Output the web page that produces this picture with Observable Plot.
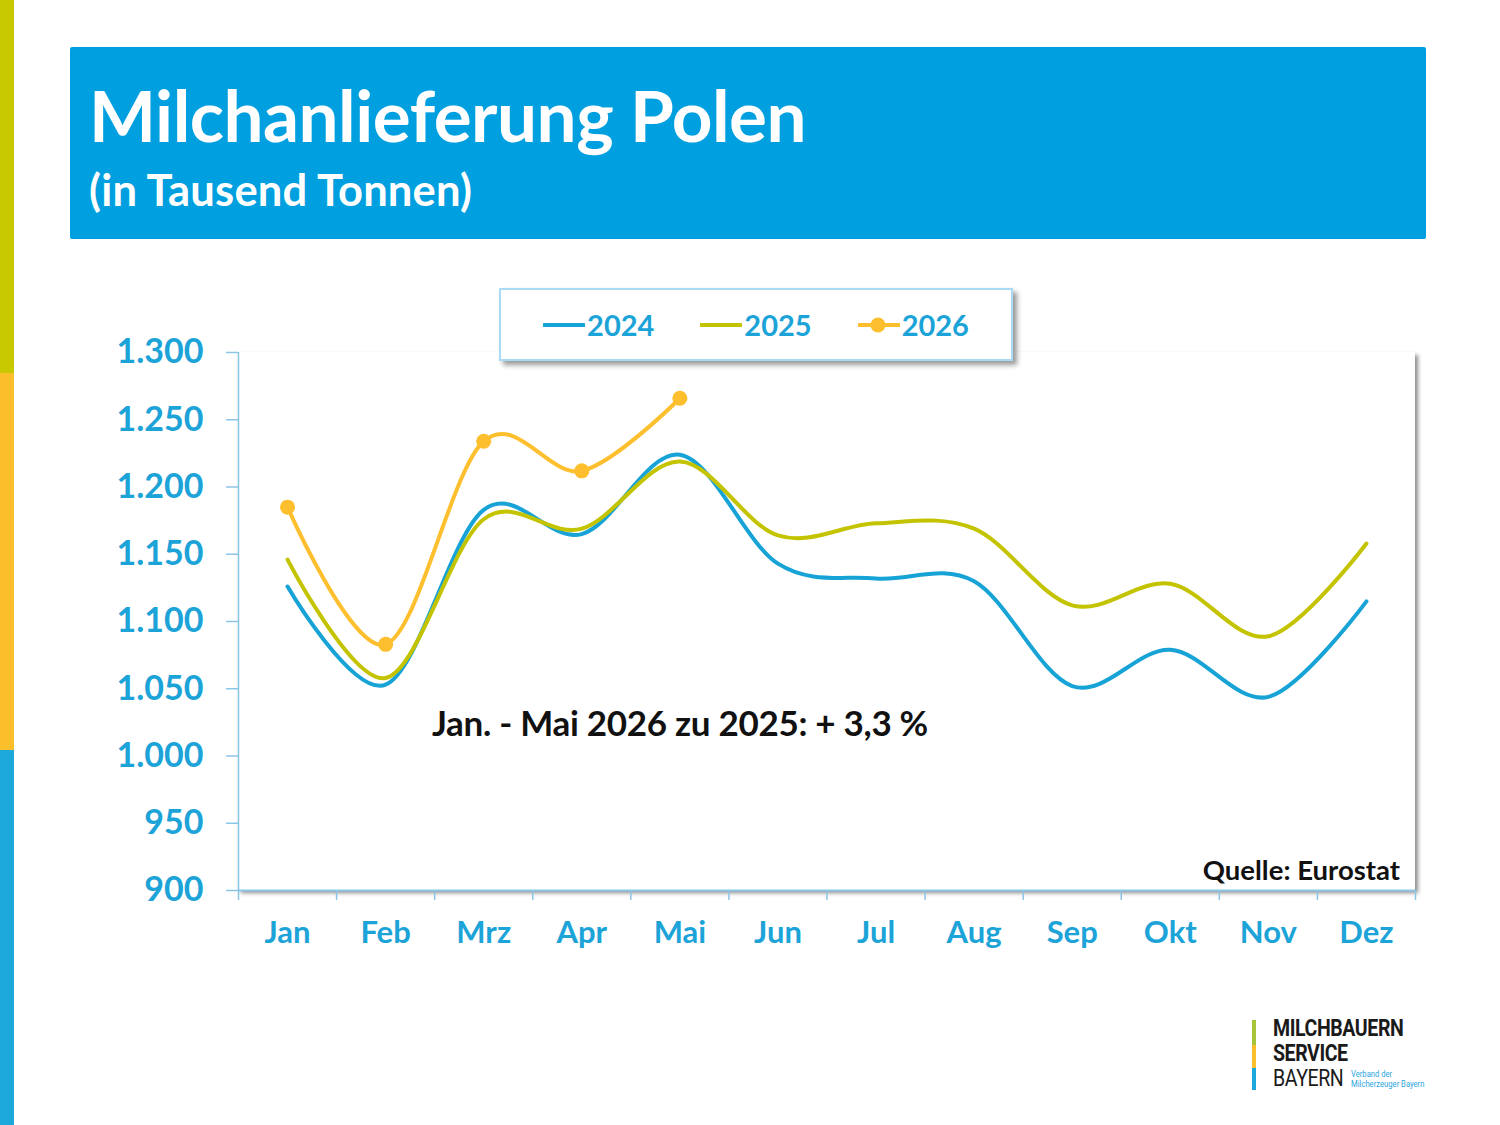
<!DOCTYPE html>
<html>
<head>
<meta charset="utf-8">
<script src="https://cdn.jsdelivr.net/npm/d3@7"></script>
<script src="https://cdn.jsdelivr.net/npm/@observablehq/plot@0.6"></script>
<style>
  html, body { margin: 0; padding: 0; background: #fff; }
  #page { position: relative; width: 1500px; height: 1125px; overflow: hidden; font-family: Lato, "Open Sans", sans-serif; }
  .stripe { position: absolute; left: 0; width: 14px; }
  #header { position: absolute; left: 70px; top: 47px; width: 1356px; height: 192px; background: #009fe0; border-radius: 2px; color: #fff; }
  #title { position: absolute; left: 19px; top: 25px; font-size: 71px; font-weight: 700; letter-spacing: -0.5px; white-space: nowrap; }
  #subtitle { position: absolute; left: 19px; top: 116px; font-size: 43.5px; font-weight: 700; white-space: nowrap; letter-spacing: 0.2px; }
  #plotbg { position: absolute; left: 238px; top: 352px; width: 1177px; height: 538px; background: #fff; box-shadow: 3px 3px 4px rgba(0,0,0,0.45); }
  #chart { position: absolute; left: 0; top: 280px; }
  #legend { position: absolute; left: 499px; top: 288px; width: 510px; height: 69px; border: 2px solid #a9dcf2; background: #fff; box-shadow: 4px 4px 5px rgba(0,0,0,0.4); display: flex; align-items: center; justify-content: center; gap: 46px; }
  .item { display: flex; align-items: center; font-size: 29px; font-weight: 700; color: #1ca3d8; }
  .item svg { margin-right: 2px; }
  #note { position: absolute; left: 432px; top: 701px; font-size: 35px; font-weight: 700; color: #111; white-space: nowrap; letter-spacing: -0.3px; }
  #source { position: absolute; right: 100px; top: 853px; font-size: 27.5px; font-weight: 700; color: #111; white-space: nowrap; }
  #logo { position: absolute; left: 1252px; top: 1018px; width: 200px; height: 80px; }
  .lbar { position: absolute; left: 0; width: 4px; }
  .ltxt { position: absolute; left: 21px; font-family: Roboto, sans-serif; font-size: 23px; color: #1a1a1a; white-space: nowrap; letter-spacing: -0.5px; transform: scaleX(0.85); transform-origin: left; }
  .lsmall { position: absolute; left: 99px; font-family: Roboto, sans-serif; font-size: 9px; color: #2aa6de; white-space: nowrap; transform: scaleX(0.85); transform-origin: left; }
</style>
</head>
<body>
<div id="page">
  <div class="stripe" style="top:0;height:373px;background:#c8c800"></div>
  <div class="stripe" style="top:373px;height:377px;background:#fbbf2c"></div>
  <div class="stripe" style="top:750px;height:375px;background:#1da8dc"></div>
  <div id="header">
    <div id="title">Milchanlieferung Polen</div>
    <div id="subtitle">(in Tausend Tonnen)</div>
  </div>
  <div id="plotbg"></div>
  <div id="chart"></div>
  <div id="legend"></div>
  <div id="note">Jan. - Mai 2026 zu 2025: + 3,3 %</div>
  <div id="source">Quelle: Eurostat</div>
  <div id="logo">
    <div class="lbar" style="top:2px;height:25px;background:#a8c43a"></div>
    <div class="lbar" style="top:27px;height:23px;background:#fbbf2c"></div>
    <div class="lbar" style="top:50px;height:22px;background:#1da8dc"></div>
    <div class="ltxt" style="top:-3px;font-weight:700">MILCHBAUERN</div>
    <div class="ltxt" style="top:22px;font-weight:700">SERVICE</div>
    <div class="ltxt" style="top:47px;font-weight:400">BAYERN</div>
    <div class="lsmall" style="top:51px">Verband der</div>
    <div class="lsmall" style="top:61px">Milcherzeuger Bayern</div>
  </div>
</div>
<script>
const months = ["Jan","Feb","Mrz","Apr","Mai","Jun","Jul","Aug","Sep","Okt","Nov","Dez"];
const v2024 = [1126,1053,1183,1165,1224,1143,1132,1130,1052,1079,1044,1115];
const v2025 = [1146,1058,1176,1169,1219,1164,1173,1169,1112,1128,1089,1158];
const v2026 = [1185,1083,1234,1212,1266];
const seriesNames = ["2024","2025","2026"];
const seriesColors = ["#17a3d6","#c4c300","#fdbf2d"];
const yTicks = [900,950,1000,1050,1100,1150,1200,1250,1300];

const de = d3.formatLocale({decimal: ",", thousands: ".", grouping: [3], currency: ["", " €"]});
const fmt = de.format(",");

const toRows = (vals, name) => vals.map((v, i) => ({x: i + 0.5, y: v, s: name}));
const r2024 = toRows(v2024, "2024");
const r2025 = toRows(v2025, "2025");
const r2026 = toRows(v2026, "2026");

const axisBlue = "#8cc6e6";
const labelBlue = "#1ca3d8";

const chart = Plot.plot({
  width: 1500,
  height: 700,
  marginLeft: 238,
  marginRight: 85,
  marginTop: 72,
  marginBottom: 90,
  style: {fontFamily: "Lato, 'Open Sans', sans-serif", fontWeight: "700", background: "transparent", overflow: "visible"},
  x: {type: "linear", domain: [0, months.length], label: null},
  y: {domain: [900, 1300], label: null},
  marks: [
    Plot.ruleX([0], {y1: 900, y2: 1300, stroke: axisBlue, strokeWidth: 1.5}),
    Plot.ruleY([900], {stroke: axisBlue, strokeWidth: 2}),
    Plot.axisY({ticks: yTicks, label: null, tickSize: 12, tickPadding: 23, tickFormat: fmt, stroke: axisBlue, strokeWidth: 1.5, fill: labelBlue, fontSize: 34, fontWeight: 700}),
    Plot.axisX({ticks: d3.range(0, months.length + 1), label: null, tickSize: 10, tickFormat: () => "", stroke: axisBlue, strokeWidth: 1.5}),
    Plot.axisX({ticks: months.map((m, i) => i + 0.5), label: null, tickSize: 0, tickPadding: 30, tickFormat: d => months[Math.floor(d)], fill: labelBlue, fontSize: 31, fontWeight: 700}),
    Plot.line(r2024, {x: "x", y: "y", stroke: seriesColors[0], strokeWidth: 4, curve: "cardinal", tension: 0}),
    Plot.line(r2025, {x: "x", y: "y", stroke: seriesColors[1], strokeWidth: 4, curve: "cardinal", tension: 0}),
    Plot.line(r2026, {x: "x", y: "y", stroke: seriesColors[2], strokeWidth: 4, curve: "cardinal", tension: 0}),
    Plot.dot(r2026, {x: "x", y: "y", fill: seriesColors[2], r: 7.5})
  ]
});
document.getElementById("chart").appendChild(chart);

const legend = document.getElementById("legend");
seriesNames.forEach((name, i) => {
  const item = document.createElement("div");
  item.className = "item";
  const dot = name === "2026" ? `<circle cx="20" cy="10" r="7.5" fill="${seriesColors[i]}"/>` : "";
  item.innerHTML = `<svg width="42" height="20"><line x1="1" y1="10" x2="41" y2="10" stroke="${seriesColors[i]}" stroke-width="4" stroke-linecap="round"/>${dot}</svg><span>${name}</span>`;
  legend.appendChild(item);
});
</script>
</body>
</html>
